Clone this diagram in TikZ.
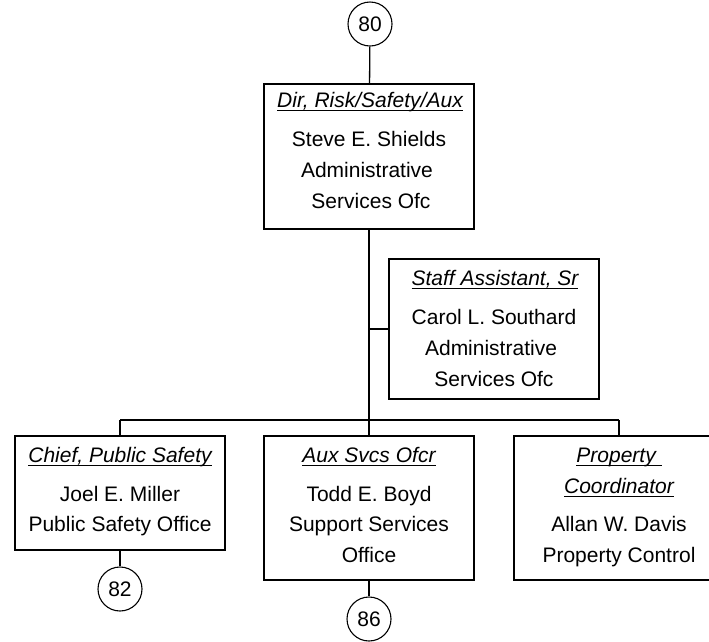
\documentclass[tikz,border=0pt]{standalone}
\usepackage{fontspec}
\setmainfont{Liberation Sans}
\newsavebox\ulbox
\newcommand{\ttl}[1]{\sbox\ulbox{\itshape #1}\rlap{\rule[-4pt]{\wd\ulbox}{1.4pt}}\usebox\ulbox}
\tikzset{
  box/.style={draw, line width=1.3pt, rectangle, minimum width=210pt, inner sep=0pt},
  circ/.style={draw, line width=1.1pt, circle, minimum size=44pt, inner sep=0pt, font=\fontsize{21}{25}\selectfont},
  txt/.style={anchor=base, inner sep=0pt, font=\fontsize{21}{25}\selectfont},
  conn/.style={line width=1.3pt}
}
\begin{document}
\begin{tikzpicture}[x=1pt,y=-1pt]
\useasboundingbox (0,0) rectangle (709,641);
\clip (0,0) rectangle (709,641);
\fill[white] (0,0) rectangle (709,641);
% circles
\node[circ] (c80) at (370,24) {80};
\node[circ] (c82) at (120,589) {82};
\node[circ] (c86) at (369,619) {86};
% boxes
\node[box, minimum height=145pt] (top) at (369,156.5) {};
\node[box, minimum height=140pt] (staff) at (494,329) {};
\node[box, minimum height=114pt] (ps) at (120,493) {};
\node[box, minimum height=144pt] (aux) at (369,508) {};
\node[box, minimum height=144pt] (prop) at (619,508) {};
% texts top
\node[txt] (t1) at (370,107) {\ttl{Dir, Risk/Safety/Aux}};
\node[txt] (t2) at (369,146) {Steve E. Shields};
\node[txt] (t3) at (367,177) {Administrative};
\node[txt] (t4) at (371,208) {Services Ofc};
% staff
\node[txt] (s1) at (495,285) {\ttl{Staff Assistant, Sr}};
\node[txt] (s2) at (494,324) {Carol L. Southard};
\node[txt] (s3) at (491,355) {Administrative};
\node[txt] (s4) at (494,386) {Services Ofc};
% public safety
\node[txt] (p1) at (120,462) {\ttl{Chief, Public Safety}};
\node[txt] (p2) at (120,501) {Joel E. Miller};
\node[txt] (p3) at (120,531) {Public Safety Office};
% aux
\node[txt] (a1) at (369,462) {\ttl{Aux Svcs Ofcr}};
\node[txt] (a2) at (369,501) {Todd E. Boyd};
\node[txt] (a3) at (369,531) {Support Services};
\node[txt] (a4) at (369,562) {Office};
% property
\node[txt] (r1) at (619,462) {\ttl{Property\ }};
\node[txt] (r2) at (619,493) {\ttl{Coordinator}};
\node[txt] (r3) at (619,531) {Allan W. Davis};
\node[txt] (r4) at (619,562) {Property Control};
% connectors
\coordinate (jst) at (top.south |- staff.west);
\coordinate (bus) at (top.south |- 0,420);
\coordinate (busl) at (ps.north |- bus);
\coordinate (busr) at (prop.north |- bus);
\draw[conn] (c80) -- (top);
\draw[conn] (top.south) -- (bus);
\draw[conn] (jst) -- (staff.west);
\draw[conn] (busl) -- (busr);
\draw[conn] (busl) -- (ps.north);
\draw[conn] (bus) -- (aux.north);
\draw[conn] (busr) -- (prop.north);
\draw[conn] (ps.south) -- (c82);
\draw[conn] (aux.south) -- (c86);
\end{tikzpicture}
\end{document}
